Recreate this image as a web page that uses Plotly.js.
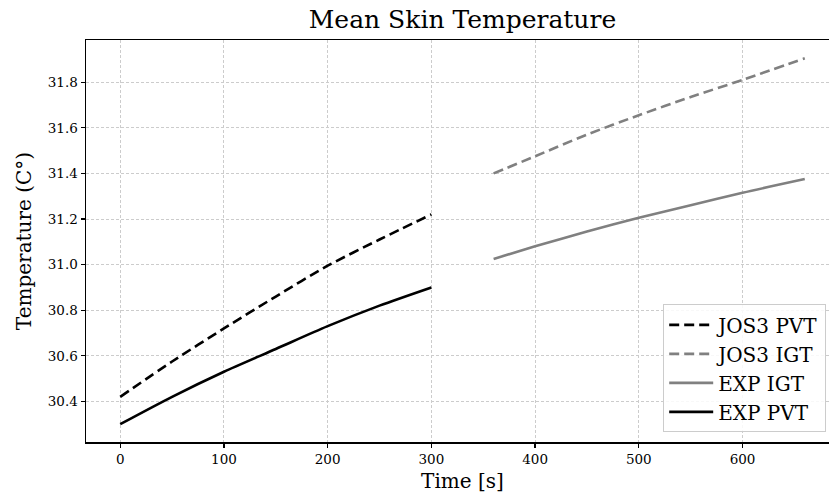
<!DOCTYPE html>
<html>
<head>
<meta charset="utf-8">
<script src="https://cdn.plot.ly/plotly-3.0.1.min.js"></script>
<style>
html, body { margin: 0; padding: 0; overflow: hidden; width: 829px; height: 500px; background: #fff; }
#chart { width: 840px; height: 500px; }
</style>
</head>
<body>
<div id="chart"></div>
<script>
// Data
const timePVT = [0, 50, 100, 150, 200, 250, 300];
const jos3PVT = [30.42, 30.575, 30.72, 30.86, 30.995, 31.11, 31.22];
const expPVT  = [30.30, 30.42, 30.53, 30.63, 30.73, 30.82, 30.90];

const timeIGT = [360, 400, 450, 500, 550, 600, 660];
const jos3IGT = [31.40, 31.475, 31.57, 31.655, 31.735, 31.81, 31.905];
const expIGT  = [31.025, 31.08, 31.145, 31.205, 31.26, 31.315, 31.375];

const xTicks = [0, 100, 200, 300, 400, 500, 600];
const yTicks = [30.4, 30.6, 30.8, 31.0, 31.2, 31.4, 31.6, 31.8];
const yTickLabels = ["30.4", "30.6", "30.8", "31.0", "31.2", "31.4", "31.6", "31.8"];

const FONT = "DejaVu Serif";

const traces = [
  { x: timePVT, y: jos3PVT, name: "JOS3 PVT", mode: "lines",
    line: { color: "#000000", width: 2.6, dash: "10px,5px", shape: "spline", smoothing: 0.8 } },
  { x: timeIGT, y: jos3IGT, name: "JOS3 IGT", mode: "lines",
    line: { color: "#808080", width: 2.6, dash: "10px,5px", shape: "spline", smoothing: 0.8 } },
  { x: timeIGT, y: expIGT, name: "EXP IGT", mode: "lines",
    line: { color: "#808080", width: 2.6, shape: "spline", smoothing: 0.8 } },
  { x: timePVT, y: expPVT, name: "EXP PVT", mode: "lines",
    line: { color: "#000000", width: 2.6, shape: "spline", smoothing: 0.8 } }
];

const layout = {
  width: 840, height: 500,
  paper_bgcolor: "#ffffff", plot_bgcolor: "#ffffff",
  margin: { l: 86, r: 1, t: 40, b: 58 },
  font: { family: FONT, color: "#000000" },
  title: { text: "Mean Skin Temperature", font: { family: FONT, size: 25, color: "#000" },
           x: 0.5, xref: "paper", xanchor: "center", y: 0.962, yanchor: "middle" },
  showlegend: true,
  legend: {
    x: 0.983, xanchor: "right", y: 0.024, yanchor: "bottom",
    bgcolor: "rgba(255,255,255,0.85)", bordercolor: "#cccccc", borderwidth: 1,
    itemwidth: 44,
    font: { family: FONT, size: 20, color: "#000" }
  },
  xaxis: {
    range: [-33, 693], tickvals: xTicks, ticktext: xTicks.map(String),
    ticks: "outside", ticklen: 4, tickwidth: 1.2, tickcolor: "#000",
    showline: true, linecolor: "#000", linewidth: 1.5, mirror: true,
    showgrid: true, gridcolor: "#cccccc", gridwidth: 1, griddash: "3px,2px",
    zeroline: false,
    tickfont: { family: FONT, size: 13.5, color: "#000" },
    title: { text: "Time [s]", font: { family: FONT, size: 20, color: "#000" }, standoff: 8 }
  },
  yaxis: {
    range: [30.222, 31.985], tickvals: yTicks, ticktext: yTickLabels,
    ticks: "outside", ticklen: 4, tickwidth: 1.2, tickcolor: "#000",
    showline: true, linecolor: "#000", linewidth: 1.5, mirror: true,
    showgrid: true, gridcolor: "#cccccc", gridwidth: 1, griddash: "3px,2px",
    zeroline: false,
    tickfont: { family: FONT, size: 13.5, color: "#000" },
    title: { text: "Temperature (C°)", font: { family: FONT, size: 20, color: "#000" }, standoff: 10 }
  }
};

Plotly.newPlot("chart", traces, layout, { displayModeBar: false, staticPlot: true });
</script>
</body>
</html>
